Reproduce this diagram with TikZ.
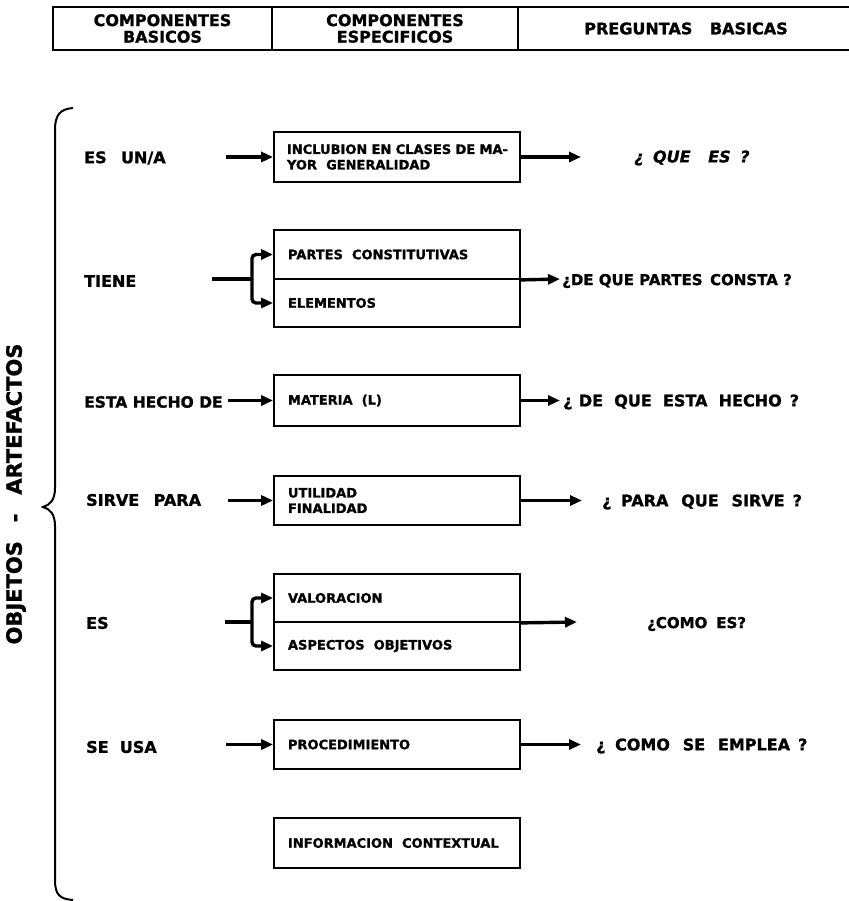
\documentclass[tikz,border=0pt]{standalone}
\usepackage{fontspec}
\setmainfont{DejaVu Sans}[BoldFeatures={FakeBold=1.2},BoldItalicFeatures={FakeBold=1.2}]
\usetikzlibrary{arrows.meta}
\begin{document}
\begin{tikzpicture}[x=1pt,y=-1pt,
  lbl/.style={anchor=west,inner sep=0pt,font=\fontsize{16}{18}\selectfont\bfseries},
  qst/.style={anchor=west,inner sep=0pt,font=\fontsize{16}{18}\selectfont\bfseries},
  hdr/.style={draw,line width=2pt,align=center,inner sep=0pt,minimum height=43pt,font=\fontsize{16}{16.5}\selectfont\bfseries},
  cell/.style={draw,line width=1.8pt,minimum width=246pt,text width=218pt,inner xsep=14pt,inner ysep=0pt,align=left,font=\fontsize{13}{15.5}\selectfont\bfseries},
  arr/.style={line width=3.4pt,-{Triangle[length=12pt,width=10pt]}},
  stem/.style={line width=3.4pt},
  fork/.style={line width=3.4pt,rounded corners=4pt,-{Triangle[length=12pt,width=10pt]}},
  brace/.style={line width=2pt}
]
\useasboundingbox (0,0) rectangle (848,901);

% header
\node[hdr,minimum width=219pt] (h1) at (162.5,28.5) {COMPONENTES\\BASICOS};
\node[hdr,minimum width=246pt] (h2) at (395,28.5) {COMPONENTES\\ESPECIFICOS};
\node[hdr,minimum width=336pt] (h3) at (686,28.5) {PREGUNTAS\hspace{1.1em}BASICAS};

% brace and side text
\draw[brace] (73,108) .. controls (60,109) and (55,115) .. (55,130) -- (55,488)
  .. controls (55,500) and (50,505) .. (43,507)
  .. controls (50,509) and (55,514) .. (55,526) -- (55,880)
  .. controls (55,895) and (60,899) .. (73,900);
\node[rotate=90,inner sep=0pt,font=\fontsize{21}{21}\selectfont\bfseries] (side) at (16,494) {OBJETOS\hspace{0.9em}-\hspace{0.9em}ARTEFACTOS};

% row 1
\node[lbl] (l1) at (84,158) {ES\hspace{0.9em}UN/A};
\node[cell,minimum height=50pt,text width=226pt,inner xsep=10pt,font=\fontsize{13}{15.5}\selectfont\bfseries] (b1) at (397,157) {\hspace{3pt}INCLUBION EN CLASES DE MA-\\\hspace{3pt}YOR\hspace{0.7em}GENERALIDAD};
\node[qst,font=\fontsize{16}{18}\selectfont\bfseries\itshape] (q1) at (634,158) {¿\hspace{0.6em}QUE\hspace{1.1em}ES\hspace{0.6em}?};
\coordinate (t1) at (226,157);
\coordinate (e1) at (581,157);
\draw[arr] (t1) -- (b1.west);
\draw[arr] (b1.east) -- (e1);

% row 2
\node[lbl] (l2) at (84,281) {TIENE};
\node[cell,minimum height=49pt] (b2a) at (397,254.5) {PARTES\hspace{0.7em}CONSTITUTIVAS};
\node[cell,minimum height=48pt] (b2b) at (397,303) {ELEMENTOS};
\coordinate (t2) at (212,279);
\coordinate (f2) at (252,279);
\coordinate (e2) at (560,279);
\draw[stem] (t2) -- (f2);
\draw[fork] (f2) |- (b2a.west);
\draw[fork] (f2) |- (b2b.west);
\draw[arr] (b2a.south east) -- (e2);
\node[qst,font=\fontsize{15}{18}\selectfont\bfseries] (q2) at (562,281) {¿DE QUE PARTES\hspace{0.5em}CONSTA ?};

% row 3
\node[lbl,font=\fontsize{15.5}{18}\selectfont\bfseries] (l3) at (84,402) {ESTA HECHO DE};
\coordinate (t3) at (228,400.5);
\node[cell,minimum height=51pt] (b3) at (397,400.5) {MATERIA\hspace{0.7em}(L)};
\coordinate (e3) at (560,400.5);
\draw[arr] (t3) -- (b3.west);
\draw[arr] (b3.east) -- (e3);
\node[qst] (q3) at (563,402) {¿\hspace{0.4em}DE\hspace{0.7em}QUE\hspace{0.7em}ESTA\hspace{0.7em}HECHO\hspace{0.5em}?};

% row 4
\node[lbl] (l4) at (86,500) {SIRVE\hspace{0.9em}PARA};
\node[cell,minimum height=49pt] (b4) at (397,500.5) {UTILIDAD\\FINALIDAD};
\coordinate (t4) at (228,500.5);
\coordinate (e4) at (582,500.5);
\draw[arr] (t4) -- (b4.west);
\draw[arr] (b4.east) -- (e4);
\node[qst] (q4) at (602,502) {¿\hspace{0.6em}PARA\hspace{0.8em}QUE\hspace{0.8em}SIRVE\hspace{0.5em}?};

% row 5
\node[lbl] (l5) at (86,623) {ES};
\node[cell,minimum height=48pt] (b5a) at (397,598) {VALORACION};
\node[cell,minimum height=48pt] (b5b) at (397,646) {ASPECTOS\hspace{0.7em}OBJETIVOS};
\coordinate (t5) at (225,622);
\coordinate (f5) at (252,622);
\coordinate (e5) at (577,622);
\draw[stem] (t5) -- (f5);
\draw[fork] (f5) |- (b5a.west);
\draw[fork] (f5) |- (b5b.west);
\draw[arr] (b5a.south east) -- (e5);
\node[qst,font=\fontsize{15}{18}\selectfont\bfseries] (q5) at (647,624) {¿COMO\hspace{0.6em}ES?};

% row 6
\node[lbl] (l6) at (86,747) {SE\hspace{0.7em}USA};
\node[cell,minimum height=49pt] (b6) at (397,744.5) {PROCEDIMIENTO};
\coordinate (t6) at (226,744.5);
\coordinate (e6) at (581,744.5);
\draw[arr] (t6) -- (b6.west);
\draw[arr] (b6.east) -- (e6);
\node[qst] (q6) at (596,746) {¿\hspace{0.6em}COMO\hspace{0.8em}SE\hspace{0.8em}EMPLEA\hspace{0.5em}?};

% row 7
\node[cell,minimum height=50pt] (b7) at (397,843) {INFORMACION\hspace{0.7em}CONTEXTUAL};

\end{tikzpicture}
\end{document}
